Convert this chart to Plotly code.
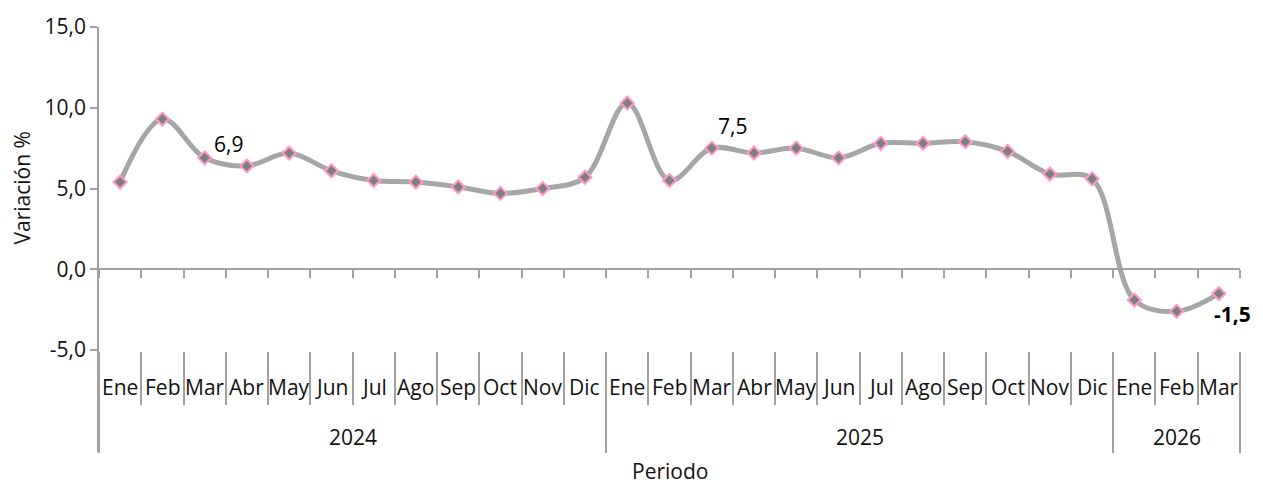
import plotly.graph_objects as go

# ---------------- data ----------------
months = ["Ene", "Feb", "Mar", "Abr", "May", "Jun", "Jul", "Ago", "Sep", "Oct", "Nov", "Dic",
          "Ene", "Feb", "Mar", "Abr", "May", "Jun", "Jul", "Ago", "Sep", "Oct", "Nov", "Dic",
          "Ene", "Feb", "Mar"]
years = ["2024"] * 12 + ["2025"] * 12 + ["2026"] * 3
values = [5.4, 9.3, 6.9, 6.4, 7.2, 6.1, 5.5, 5.4, 5.1, 4.7, 5.0, 5.7,
          10.3, 5.5, 7.5, 7.2, 7.5, 6.9, 7.8, 7.8, 7.9, 7.3, 5.9, 5.6,
          -1.9, -2.6, -1.5]
y_ticks = [-5, 0, 5, 10, 15]
labelled = [2, 14, 26]          # indices of points with data labels

def fmt(v):
    return f"{v:.1f}".replace(".", ",")

n = len(values)
xs = list(range(n))

# ---------------- geometry ----------------
W, H = 1263, 487
ML, MR, MT, MB = 99, 23, 25, 35
plot_h = H - MT - MB
Y_MAX = 15
Y_MIN = -11.31
def paper_y_from_px(py):
    return (H - MB - py) / plot_h

FONT = "Open Sans"
FS = 21
TXT = "#111111"
AX = "#A0A0A0"

fig = go.Figure()
fig.add_trace(go.Scatter(
    x=xs, y=values, mode="lines+markers",
    line=dict(color="#A6A6A6", width=5, shape="spline", smoothing=1.0),
    marker=dict(symbol="diamond", size=10, color="#7F7F7F",
                line=dict(color="#FF99CC", width=2)),
    hoverinfo="x+y", showlegend=False, cliponaxis=False,
))

boundaries = [i - 0.5 for i in range(n + 1)]
year_bounds = [-0.5]
for i in range(1, n):
    if years[i] != years[i - 1]:
        year_bounds.append(i - 0.5)
year_bounds.append(n - 0.5)

zero_pos = (0 - Y_MIN) / (Y_MAX - Y_MIN)
label_top = paper_y_from_px(351)

fig.update_layout(
    width=W, height=H,
    margin=dict(l=ML, r=MR, t=MT, b=MB),
    paper_bgcolor="white", plot_bgcolor="white",
    font=dict(family=FONT, size=FS, color=TXT),
    xaxis=dict(range=[-0.5, n - 0.5], anchor="free", position=zero_pos,
               showline=True, linecolor=AX, linewidth=1.5,
               tickmode="array", tickvals=boundaries, ticks="outside",
               ticklen=8, tickcolor=AX, tickwidth=1.5,
               showticklabels=False, showgrid=False, zeroline=False),
    xaxis2=dict(range=[-0.5, n - 0.5], overlaying="x", anchor="free",
                position=label_top, showline=False,
                tickmode="array", tickvals=boundaries, ticks="outside",
                ticklen=53, tickcolor=AX, tickwidth=1.5,
                showticklabels=False, showgrid=False, zeroline=False),
    xaxis3=dict(range=[-0.5, n - 0.5], overlaying="x", anchor="free",
                position=label_top, showline=False,
                tickmode="array", tickvals=year_bounds, ticks="outside",
                ticklen=101, tickcolor=AX, tickwidth=1.5,
                showticklabels=False, showgrid=False, zeroline=False),
    yaxis=dict(range=[Y_MIN, Y_MAX], showline=True, linecolor=AX, linewidth=1.5,
               tickmode="array", tickvals=y_ticks,
               ticktext=[fmt(v) for v in y_ticks],
               ticks="outside", ticklen=7, tickcolor=AX, tickwidth=1.5,
               showgrid=False, zeroline=False,
               tickfont=dict(family=FONT, size=FS, color=TXT)),
)

# invisible traces so the overlay axes render
fig.add_trace(go.Scatter(x=[0], y=[0], xaxis="x2", mode="markers",
                         marker=dict(opacity=0), showlegend=False, hoverinfo="skip"))
fig.add_trace(go.Scatter(x=[0], y=[0], xaxis="x3", mode="markers",
                         marker=dict(opacity=0), showlegend=False, hoverinfo="skip"))

ann = []
# month labels
for i, m in enumerate(months):
    ann.append(dict(x=i, xref="x", y=paper_y_from_px(387), yref="paper",
                    text=m, showarrow=False, xanchor="center", yanchor="middle",
                    font=dict(family=FONT, size=FS, color=TXT)))
# year labels
for k in range(1, len(year_bounds)):
    lo, hi = year_bounds[k - 1], year_bounds[k]
    yr = years[int(lo + 0.5)]
    ann.append(dict(x=(lo + hi) / 2, xref="x", y=paper_y_from_px(437), yref="paper",
                    text=yr, showarrow=False, xanchor="center", yanchor="middle",
                    font=dict(family=FONT, size=FS, color=TXT)))
# axis titles
ann.append(dict(x=0.5, xref="paper", y=paper_y_from_px(471), yref="paper",
                text="Periodo", showarrow=False, xanchor="center", yanchor="middle",
                borderpad=0,
                font=dict(family=FONT, size=FS, color=TXT)))
ann.append(dict(x=0, xref="paper", xshift=-77, y=5, yref="y",
                text="Variación %", textangle=-90, showarrow=False,
                xanchor="center", yanchor="middle",
                font=dict(family=FONT, size=FS, color=TXT)))
# data labels
shifts = {2: (24, 14), 14: (21, 22), 26: (14, -20)}
for i in labelled:
    dx, dy = shifts[i]
    bold = i == n - 1
    txt = fmt(values[i])
    ann.append(dict(x=xs[i], xref="x", y=values[i], yref="y",
                    text=f"<b>{txt}</b>" if bold else txt,
                    showarrow=False, xanchor="center", yanchor="middle",
                    xshift=dx, yshift=dy,
                    font=dict(family=FONT, size=FS, color="#000000")))
fig.update_layout(annotations=ann)

fig.write_html("out.html", config={"displayModeBar": False},
               post_script="document.body.style.margin='0';document.body.style.overflow='hidden';")
